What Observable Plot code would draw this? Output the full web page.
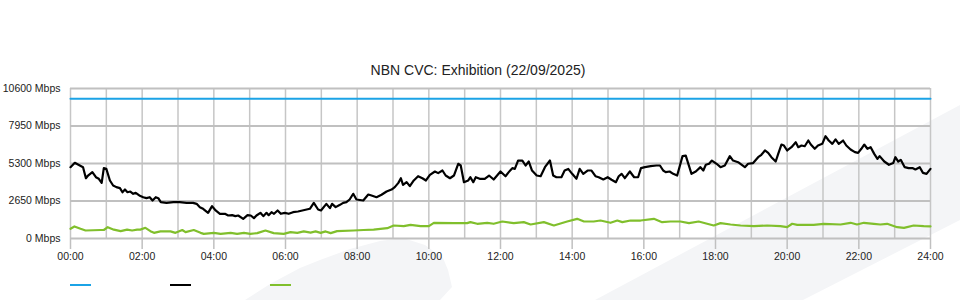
<!DOCTYPE html>
<html>
<head>
<meta charset="utf-8">
<script src="https://cdn.jsdelivr.net/npm/d3@7"></script>
<script src="https://cdn.jsdelivr.net/npm/@observablehq/plot@0.6"></script>
<style>
  html, body { margin: 0; padding: 0; width: 960px; height: 300px; overflow: hidden; background: #fff; font-family: "Liberation Sans", Arial, sans-serif; }
  #wm1 { position: absolute; left: 0; top: 0; width: 960px; height: 300px; background: #f4f5f7;
         clip-path: polygon(595px 300px, 960px 105px, 960px 220px, 803px 300px); }
  #wm2 { position: absolute; left: 0; top: 0; width: 960px; height: 300px; background: #f4f5f7;
         clip-path: polygon(403px 238px, 380px 241px, 350px 249px, 320px 260px, 300px 268px, 270px 284px, 245px 300px, 440px 300px, 452px 287px, 448px 270px, 443px 258px, 425px 245px); }
  #title { position: absolute; left: 0; top: 60px; width: 956px; text-align: center; font-size: 14px; line-height: 20px; color: #222; }
  #chart { position: absolute; left: 0; top: 80px; }
  #chart svg { background: transparent !important; }
  .sw { position: absolute; top: 284px; width: 21px; height: 2px; }
</style>
</head>
<body>
<div id="wm1"></div>
<div id="wm2"></div>
<div id="title">NBN CVC: Exhibition (22/09/2025)</div>
<div id="chart"></div>
<div class="sw" style="left:70px;background:#1ba3e6"></div>
<div class="sw" style="left:170px;background:#000"></div>
<div class="sw" style="left:270px;background:#80bf2c"></div>
<script>
const seriesNames = ["Capacity", "Traffic", "Upload"];
const seriesColors = ["#1ba3e6", "#000000", "#80bf2c"];

const yTicks = [0, 2650, 5300, 7950, 10600];
const xTicks = [0, 2, 4, 6, 8, 10, 12, 14, 16, 18, 20, 22, 24];
const hourGrid = d3.range(0, 25);

const capacityHours = [0, 24];
const capacityValues = [9870, 9870];

const trafficHours = [0.00,0.12,0.26,0.35,0.43,0.49,0.61,0.71,0.79,0.87,0.93,1.00,1.10,1.19,1.28,1.38,1.45,1.52,1.59,1.67,1.75,1.82,1.92,2.03,2.12,2.21,2.29,2.38,2.45,2.52,2.68,2.87,3.05,3.24,3.42,3.52,3.61,3.70,3.84,3.95,4.05,4.17,4.31,4.40,4.51,4.60,4.68,4.82,4.94,5.03,5.12,5.19,5.30,5.38,5.47,5.53,5.61,5.68,5.78,5.87,5.98,6.09,6.21,6.35,6.47,6.59,6.68,6.79,6.91,6.99,7.14,7.24,7.30,7.40,7.52,7.61,7.70,7.79,7.89,7.98,8.17,8.31,8.40,8.54,8.68,8.82,8.96,9.05,9.15,9.22,9.28,9.38,9.47,9.58,9.70,9.82,9.92,10.03,10.17,10.26,10.38,10.47,10.59,10.70,10.82,10.89,10.98,11.10,11.16,11.24,11.31,11.42,11.56,11.68,11.81,12.00,12.14,12.23,12.33,12.40,12.49,12.61,12.70,12.79,12.88,13.01,13.12,13.24,13.38,13.47,13.56,13.70,13.79,13.89,14.00,14.12,14.21,14.31,14.43,14.54,14.65,14.74,14.87,14.99,15.10,15.22,15.30,15.38,15.47,15.61,15.73,15.84,15.92,16.03,16.19,16.35,16.45,16.54,16.61,16.72,16.82,16.93,17.08,17.17,17.33,17.45,17.58,17.66,17.73,17.82,17.90,18.03,18.14,18.26,18.40,18.49,18.63,18.82,18.91,19.05,19.19,19.28,19.38,19.47,19.56,19.68,19.75,19.84,19.91,20.00,20.12,20.24,20.31,20.40,20.49,20.59,20.66,20.77,20.86,20.98,21.07,21.16,21.26,21.35,21.44,21.56,21.65,21.77,21.89,21.98,22.07,22.15,22.24,22.33,22.43,22.52,22.58,22.71,22.84,22.96,23.02,23.10,23.17,23.28,23.39,23.51,23.58,23.70,23.79,23.89,24.00];
const trafficValues = [5040,5350,5160,5040,4260,4450,4690,4330,4220,3930,4970,4920,4100,3745,3630,3560,3270,3460,3270,3320,3160,3230,3040,2920,2850,2920,2685,2920,2850,2565,2520,2565,2565,2520,2520,2450,2215,2100,1815,2285,1980,1745,1745,1625,1650,1580,1625,1390,1650,1625,1440,1625,1815,1580,1815,1650,1860,1745,1980,1745,1815,1745,1860,1910,1980,2050,2100,2520,2050,1980,2450,2145,2450,2215,2380,2520,2565,2755,3160,2755,2685,3110,3040,2920,3090,3320,3460,3630,3930,4260,3790,3980,3700,4100,4400,4260,4100,4500,4735,4620,4805,4450,4260,4450,5280,5160,3980,4100,4330,3980,4330,4220,4220,4450,4170,4735,4400,4690,4970,4920,5510,5510,5160,5440,4805,4450,4400,5040,5510,4450,4330,4330,4805,4920,4570,4220,4920,4570,4805,4805,4400,4330,4170,4330,4150,3980,4400,4570,4260,4735,4330,4330,4970,5040,5110,5160,5160,4805,4690,4735,4570,4450,5820,5860,4570,4735,5040,4805,5210,5280,5510,5280,5040,5160,5820,5510,5390,5040,5280,5330,5745,5915,6220,6050,5745,5440,5980,6640,6570,6220,6450,6800,6450,6570,6520,6925,6640,6340,6570,6690,7230,6925,6690,7000,6690,6925,6570,6290,6100,6055,6340,6640,6340,6450,5980,5630,5820,5440,5210,5330,5745,5440,5560,5040,4970,4970,4880,5040,4640,4570,4920];

const uploadHours = [0.00,0.11,0.28,0.42,0.84,0.93,1.04,1.21,1.40,1.58,1.72,1.86,1.95,2.09,2.23,2.33,2.51,2.79,2.93,3.12,3.21,3.44,3.63,3.72,4.00,4.19,4.47,4.65,4.84,5.02,5.21,5.44,5.67,5.95,6.14,6.33,6.51,6.70,6.84,6.98,7.12,7.26,7.44,7.90,8.18,8.46,8.84,9.02,9.30,9.49,9.77,10.00,10.14,10.70,11.07,11.16,11.35,11.63,11.81,12.05,12.37,12.65,12.84,13.21,13.49,13.86,14.14,14.33,14.60,14.79,15.07,15.26,15.40,15.63,15.91,16.28,16.51,16.74,17.02,17.26,17.53,17.95,18.14,18.42,18.70,19.07,19.44,19.81,20.00,20.14,20.28,20.74,21.02,21.49,21.77,21.95,22.14,22.42,22.60,22.79,23.07,23.26,23.53,23.81,24.00];
const uploadValues = [685,850,685,565,600,600,800,625,520,625,565,625,625,755,520,400,500,500,400,600,450,600,400,330,400,330,400,330,400,330,380,565,380,330,450,400,500,420,500,400,500,380,520,565,600,625,730,920,870,965,870,870,1110,1085,1085,1155,1040,1110,1040,1200,1085,1155,990,1155,920,1200,1390,1200,1200,1270,1110,1270,1155,1270,1270,1390,1155,1200,1200,1085,1200,920,1085,990,920,870,920,870,800,1040,965,965,1040,990,1110,990,1110,1040,990,1040,800,755,920,870,850];

const toRows = (hours, values, name) => hours.map((h, i) => ({h, v: values[i], name}));
const capacity = toRows(capacityHours, capacityValues, seriesNames[0]);
const traffic = toRows(trafficHours, trafficValues, seriesNames[1]);
const upload = toRows(uploadHours, uploadValues, seriesNames[2]);

const pad = n => String(n).padStart(2, "0");

const chart = Plot.plot({
  width: 960,
  height: 188,
  marginTop: 8,
  marginBottom: 30,
  marginLeft: 70,
  marginRight: 30,
  style: {fontFamily: '"Liberation Sans", Arial, sans-serif', fontSize: "10.5px", color: "#222", background: "transparent"},
  x: {domain: [0, 24]},
  y: {domain: [0, 10600]},
  marks: [
    Plot.ruleX(hourGrid, {x: d => d, stroke: "#c6c6c6", strokeWidth: 1.5, strokeOpacity: 1}),
    Plot.ruleY(yTicks, {y: d => d, stroke: "#c0c0c0", strokeWidth: 2, strokeOpacity: 1}),
    Plot.axisX({ticks: xTicks, tickFormat: d => pad(d) + ":00", tickSize: 11, tickPadding: 3, stroke: "#c0c0c0", strokeOpacity: 1, strokeWidth: 1.5, label: null}),
    Plot.axisY({ticks: yTicks, tickFormat: d => d + " Mbps", tickSize: 0, tickPadding: 10, label: null}),
    Plot.line(capacity, {x: "h", y: "v", stroke: seriesColors[0], strokeWidth: 2}),
    Plot.line(upload, {x: "h", y: "v", stroke: seriesColors[2], strokeWidth: 2.2}),
    Plot.line(traffic, {x: "h", y: "v", stroke: seriesColors[1], strokeWidth: 2.2})
  ]
});
document.getElementById("chart").appendChild(chart);
</script>
</body>
</html>
